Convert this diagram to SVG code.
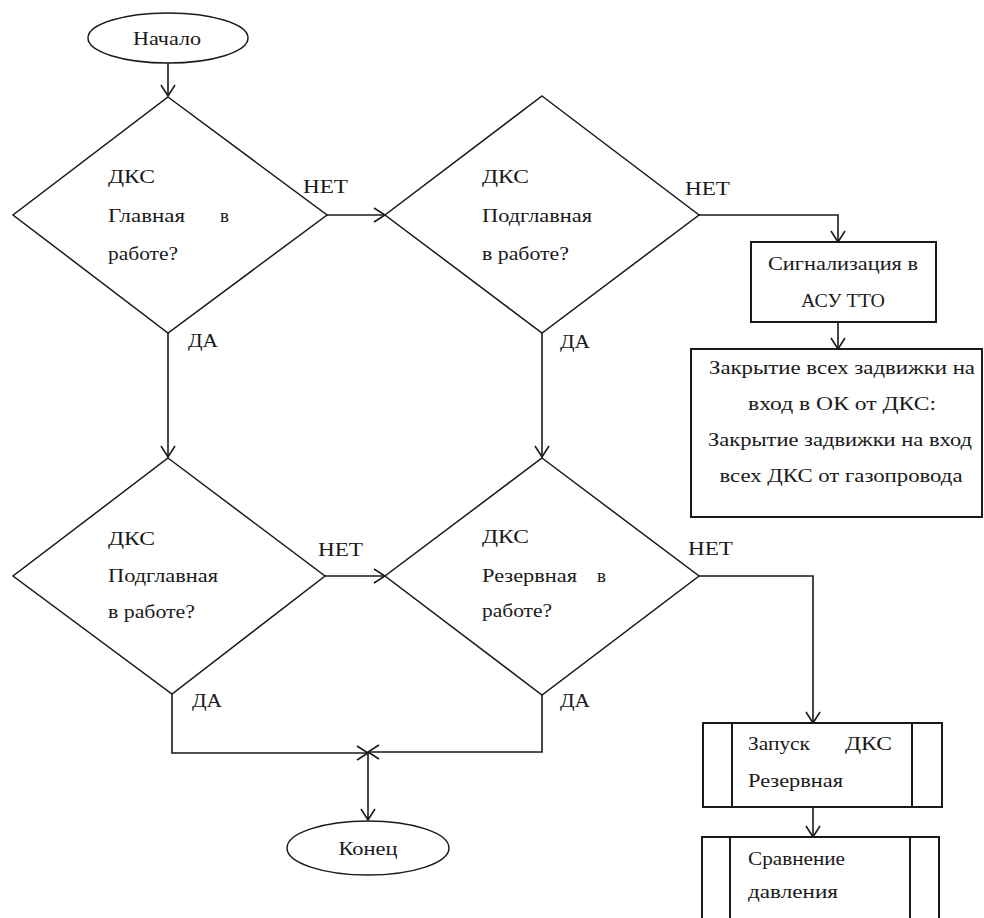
<svg xmlns="http://www.w3.org/2000/svg" width="984" height="918" viewBox="0 0 984 918">
  <defs>
    <marker id="arrow" markerUnits="userSpaceOnUse" markerWidth="24" markerHeight="24" viewBox="-12 -12 24 24" refX="0" refY="0" orient="auto" overflow="visible">
      <path d="M-11,-7 L0,0 L-11,7" fill="none" stroke="#1a1a1a" stroke-width="1.6"/>
    </marker>
    <style>
      text { font-family: "Liberation Serif", "Times New Roman", "DejaVu Serif", serif; font-size: 19px; fill: #1a1a1a; }
      .mid { text-anchor: middle; }
      .shape { fill: #ffffff; stroke: #1a1a1a; stroke-width: 1.5; }
      .box { fill: #ffffff; stroke: #1a1a1a; stroke-width: 2; }
      .edge { fill: none; stroke: #1a1a1a; stroke-width: 1.6; marker-end: url(#arrow); }
    </style>
  </defs>
  <rect width="984" height="918" fill="#ffffff"/>

  <!-- connectors -->
  <g id="connectors">
    <path class="edge" d="M168,63 L168,96"/>
    <path class="edge" d="M327,215 L385,215"/>
    <path class="edge" d="M699,215 L838,215 L838,242"/>
    <path class="edge" d="M838,322 L838,349"/>
    <path class="edge" d="M168,333 L168,457"/>
    <path class="edge" d="M542,333 L542,457"/>
    <path class="edge" d="M325,576 L385,576"/>
    <path class="edge" d="M699,576 L813,576 L813,723"/>
    <path class="edge" d="M813,807 L813,837"/>
    <path class="edge" d="M172,694 L172,753 L368,753"/>
    <path class="edge" d="M542,695 L542,752 L368,752"/>
    <path class="edge" d="M368,752 L368,820"/>
  </g>

  <!-- start -->
  <g id="start">
    <ellipse class="shape" cx="168" cy="38" rx="80" ry="25"/>
    <text class="mid" x="167" y="45" textLength="68" lengthAdjust="spacingAndGlyphs">Начало</text>
  </g>

  <!-- main station check -->
  <g id="check-main">
    <polygon class="shape" points="168,97 327,215 168,333 13,215"/>
    <text x="108" y="183" textLength="47" lengthAdjust="spacingAndGlyphs">ДКС</text>
    <text x="108" y="222" textLength="77" lengthAdjust="spacingAndGlyphs">Главная</text>
    <text x="220" y="222">в</text>
    <text x="108" y="260" textLength="70" lengthAdjust="spacingAndGlyphs">работе?</text>
  </g>
  <g id="label-no-1"><text x="303" y="193" textLength="45" lengthAdjust="spacingAndGlyphs">НЕТ</text></g>
  <g id="label-yes-1"><text x="188" y="347" textLength="30" lengthAdjust="spacingAndGlyphs">ДА</text></g>

  <!-- sub-main station check (upper) -->
  <g id="check-submain-1">
    <polygon class="shape" points="542,96 699,215 542,333 385,215"/>
    <text x="482" y="183" textLength="47" lengthAdjust="spacingAndGlyphs">ДКС</text>
    <text x="482" y="222" textLength="110" lengthAdjust="spacingAndGlyphs">Подглавная</text>
    <text x="482" y="260" textLength="87" lengthAdjust="spacingAndGlyphs">в работе?</text>
  </g>
  <g id="label-no-2"><text x="685" y="195" textLength="45" lengthAdjust="spacingAndGlyphs">НЕТ</text></g>
  <g id="label-yes-2"><text x="560" y="348" textLength="30" lengthAdjust="spacingAndGlyphs">ДА</text></g>

  <!-- alarm -->
  <g id="alarm">
    <rect class="box" x="751" y="242" width="185" height="80"/>
    <text class="mid" x="843" y="270" textLength="150" lengthAdjust="spacingAndGlyphs">Сигнализация в</text>
    <text class="mid" x="843" y="307" textLength="84" lengthAdjust="spacingAndGlyphs">АСУ ТТО</text>
  </g>

  <!-- valve closing -->
  <g id="close-valves">
    <rect class="box" x="691" y="349" width="291" height="168"/>
    <text class="mid" x="842" y="374" textLength="266" lengthAdjust="spacingAndGlyphs">Закрытие всех задвижки на</text>
    <text class="mid" x="842" y="410" textLength="188" lengthAdjust="spacingAndGlyphs">вход в ОК от ДКС:</text>
    <text class="mid" x="840" y="446" textLength="264" lengthAdjust="spacingAndGlyphs">Закрытие задвижки на вход</text>
    <text class="mid" x="841" y="482" textLength="243" lengthAdjust="spacingAndGlyphs">всех ДКС от газопровода</text>
  </g>

  <!-- sub-main station check (lower) -->
  <g id="check-submain-2">
    <polygon class="shape" points="168,458 325,576 172,694 13,576"/>
    <text x="108" y="545" textLength="47" lengthAdjust="spacingAndGlyphs">ДКС</text>
    <text x="108" y="582" textLength="110" lengthAdjust="spacingAndGlyphs">Подглавная</text>
    <text x="108" y="618" textLength="87" lengthAdjust="spacingAndGlyphs">в работе?</text>
  </g>
  <g id="label-no-3"><text x="318" y="556" textLength="45" lengthAdjust="spacingAndGlyphs">НЕТ</text></g>
  <g id="label-yes-3"><text x="192" y="707" textLength="30" lengthAdjust="spacingAndGlyphs">ДА</text></g>

  <!-- reserve station check -->
  <g id="check-reserve">
    <polygon class="shape" points="542,458 699,576 542,695 385,576"/>
    <text x="482" y="543" textLength="47" lengthAdjust="spacingAndGlyphs">ДКС</text>
    <text x="482" y="582" textLength="95" lengthAdjust="spacingAndGlyphs">Резервная</text>
    <text x="597" y="582">в</text>
    <text x="482" y="617" textLength="70" lengthAdjust="spacingAndGlyphs">работе?</text>
  </g>
  <g id="label-no-4"><text x="688" y="555" textLength="45" lengthAdjust="spacingAndGlyphs">НЕТ</text></g>
  <g id="label-yes-4"><text x="560" y="707" textLength="30" lengthAdjust="spacingAndGlyphs">ДА</text></g>

  <!-- start reserve station (predefined process) -->
  <g id="start-reserve">
    <rect class="box" x="703" y="723" width="239" height="84"/>
    <line class="box" x1="732" y1="723" x2="732" y2="807"/>
    <line class="box" x1="912" y1="723" x2="912" y2="807"/>
    <text x="748" y="750" textLength="62" lengthAdjust="spacingAndGlyphs">Запуск</text>
    <text x="845" y="750" textLength="47" lengthAdjust="spacingAndGlyphs">ДКС</text>
    <text x="748" y="787" textLength="95" lengthAdjust="spacingAndGlyphs">Резервная</text>
  </g>

  <!-- pressure comparison (predefined process) -->
  <g id="compare-pressure">
    <rect class="box" x="702" y="837" width="237" height="100"/>
    <line class="box" x1="730" y1="837" x2="730" y2="937"/>
    <line class="box" x1="910" y1="837" x2="910" y2="937"/>
    <text x="748" y="865" textLength="97" lengthAdjust="spacingAndGlyphs">Сравнение</text>
    <text x="748" y="898" textLength="90" lengthAdjust="spacingAndGlyphs">давления</text>
  </g>

  <!-- end -->
  <g id="end">
    <ellipse class="shape" cx="368" cy="848" rx="81" ry="27"/>
    <text class="mid" x="368" y="855" textLength="59" lengthAdjust="spacingAndGlyphs">Конец</text>
  </g>
</svg>
